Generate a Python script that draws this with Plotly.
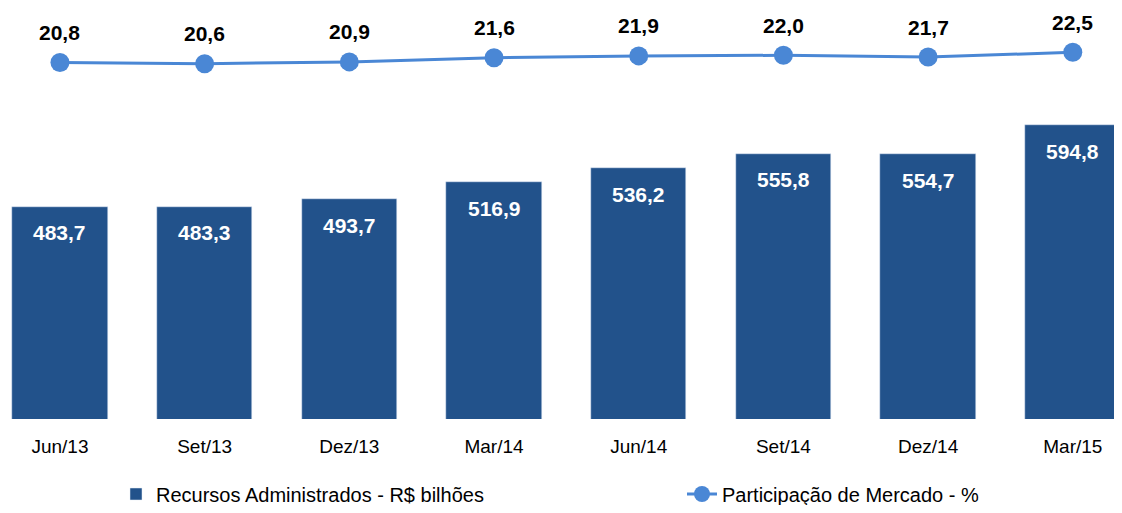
import plotly.graph_objects as go

# quarters on the x axis
periodos = ["Jun/13", "Set/13", "Dez/13", "Mar/14", "Jun/14", "Set/14", "Dez/14", "Mar/15"]
# assets under management, R$ billions
recursos = [483.7, 483.3, 493.7, 516.9, 536.2, 555.8, 554.7, 594.8]
# market share, %
participacao = [20.8, 20.6, 20.9, 21.6, 21.9, 22.0, 21.7, 22.5]

cor_barra = "#22528B"
cor_linha = "#4A87D5"

# the html page adds an 8px body margin, so the figure is shrunk to fit
W, H = 1114, 497


def fmt(v):
    return f"{v:.1f}".replace(".", ",")


fig = go.Figure()

fig.add_trace(go.Bar(
    x=list(range(len(periodos))),
    y=recursos,
    width=0.66,
    marker_color=cor_barra,
    name="Recursos Administrados - R$ bilhões",
    legend="legend",
))

fig.add_trace(go.Scatter(
    x=list(range(len(periodos))),
    y=participacao,
    yaxis="y2",
    mode="lines+markers",
    line=dict(color=cor_linha, width=3),
    marker=dict(color=cor_linha, size=19),
    name="Participação de Mercado - %",
    legend="legend2",
))

# value labels
for i, v in enumerate(recursos):
    fig.add_annotation(x=i, y=v, yref="y", text=fmt(v), showarrow=False,
                       yshift=-26, font=dict(family="Liberation Sans", size=21, color="white", weight="bold"))
for i, v in enumerate(participacao):
    fig.add_annotation(x=i, y=v, yref="y2", text=fmt(v), showarrow=False,
                       yshift=30, font=dict(family="Liberation Sans", size=21, color="black", weight="bold"))

leg = dict(orientation="h", xanchor="left", y=-0.1825, yanchor="middle",
           font=dict(size=20), bgcolor="rgba(0,0,0,0)")

fig.update_layout(
    width=W,
    height=H,
    margin=dict(l=0, r=0, t=0, b=86, autoexpand=False),
    plot_bgcolor="white",
    paper_bgcolor="white",
    font=dict(family="Liberation Sans", size=18, color="black"),
    bargap=0,
    xaxis=dict(
        range=[-0.359, 7.34],
        tickvals=list(range(len(periodos))),
        ticktext=periodos,
        showgrid=False,
        zeroline=False,
        showline=False,
        ticklabelstandoff=14,
        tickfont=dict(size=19),
    ),
    yaxis=dict(range=[195, 753.9], visible=False, showgrid=False),
    yaxis2=dict(range=[-38.6, 29.88], overlaying="y", visible=False, showgrid=False),
    legend=dict(leg, x=108 / W),
    legend2=dict(leg, x=674 / W),
    showlegend=True,
)

fig.write_html("out.html")
